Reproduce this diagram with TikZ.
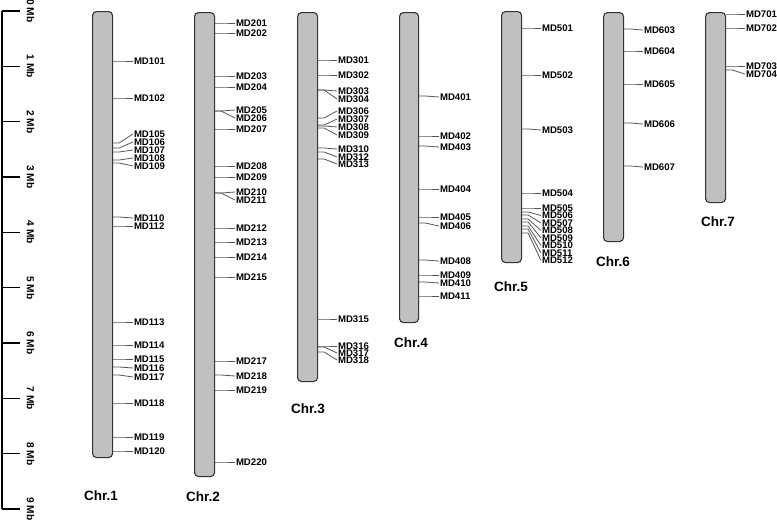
\documentclass[tikz,border=0pt]{standalone}
\usepackage{fontspec}
\setmainfont{Liberation Sans}
\definecolor{chrfill}{HTML}{C0C0C0}
\definecolor{chrline}{HTML}{333333}
\definecolor{conline}{HTML}{555555}
\newcommand\mk[5]{%
  \node[lab] (#5) at (#2,#4) {#5};
  \draw[con] (#1.east |- 0,#3) -- ++(6,0) -- (#5.west);
}
\begin{document}
\begin{tikzpicture}[x=1pt,y=-1pt,
  chrom/.style={draw=chrline, fill=chrfill, line width=1.1pt, rounded corners=4pt,
    inner sep=0pt, minimum width=20pt, anchor=north west},
  lab/.style={anchor=west, inner sep=0.8pt, font=\fontsize{9.6}{9.6}\selectfont\bfseries},
  con/.style={draw=conline, line width=0.8pt},
  chrlab/.style={font=\fontsize{13.5}{13.5}\selectfont\bfseries, inner sep=0pt},
  sclab/.style={font=\fontsize{10.2}{10.2}\selectfont\bfseries, rotate=-90, inner sep=0pt},
  axis/.style={draw=black, line width=1.2pt}]
\useasboundingbox (0,0) rectangle (777,528);
% scale
\coordinate (ax0) at (2,11);
\coordinate (ax9) at (2,509);
\draw[axis] (ax0) -- (ax9);
\foreach \k in {0,...,9}{
  \coordinate (t\k) at (2,{11+\k*55.33});
  \draw[axis] (t\k) -- ++(18,0);
  \node[sclab] (s\k) at (30.5,{11+\k*55.33}) {\k{} Mb};
}
% chromosomes
\node[chrom, minimum height=446pt] (c1) at (92,11) {};
\node[chrom, minimum height=464pt] (c2) at (194,12) {};
\node[chrom, minimum height=369pt] (c3) at (297,12) {};
\node[chrom, minimum height=310pt, minimum width=19pt] (c4) at (399,12) {};
\node[chrom, minimum height=251pt] (c5) at (501,11) {};
\node[chrom, minimum height=229pt] (c6) at (603,12) {};
\node[chrom, minimum height=190pt] (c7) at (705,12) {};
\node[chrlab] (L1) at (101,496) {Chr.1};
\node[chrlab] (L2) at (203,497) {Chr.2};
\node[chrlab] (L3) at (308,409) {Chr.3};
\node[chrlab] (L4) at (411,343) {Chr.4};
\node[chrlab] (L5) at (511,287) {Chr.5};
\node[chrlab] (L6) at (613,262) {Chr.6};
\node[chrlab] (L7) at (718,222) {Chr.7};
% Chr.1
\mk{c1}{133}{61}{61}{MD101}
\mk{c1}{133}{98}{98}{MD102}
\mk{c1}{133}{143}{134}{MD105}
\mk{c1}{133}{148}{142}{MD106}
\mk{c1}{133}{152}{150}{MD107}
\mk{c1}{133}{160}{158}{MD108}
\mk{c1}{133}{163}{166}{MD109}
\mk{c1}{133}{217}{218}{MD110}
\mk{c1}{133}{226}{226}{MD112}
\mk{c1}{133}{322}{322}{MD113}
\mk{c1}{133}{345}{345}{MD114}
\mk{c1}{133}{359}{359}{MD115}
\mk{c1}{133}{367}{368}{MD116}
\mk{c1}{133}{375}{377}{MD117}
\mk{c1}{133}{403}{403}{MD118}
\mk{c1}{133}{437}{437}{MD119}
\mk{c1}{133}{451}{451}{MD120}
% Chr.2
\mk{c2}{235}{23}{23}{MD201}
\mk{c2}{235}{33}{33}{MD202}
\mk{c2}{235}{76}{76}{MD203}
\mk{c2}{235}{87}{87}{MD204}
\mk{c2}{235}{111}{110}{MD205}
\mk{c2}{235}{111}{118}{MD206}
\mk{c2}{235}{129}{129}{MD207}
\mk{c2}{235}{166}{166}{MD208}
\mk{c2}{235}{177}{177}{MD209}
\mk{c2}{235}{193}{192}{MD210}
\mk{c2}{235}{193}{200}{MD211}
\mk{c2}{235}{228}{228}{MD212}
\mk{c2}{235}{242}{242}{MD213}
\mk{c2}{235}{257}{257}{MD214}
\mk{c2}{235}{277}{277}{MD215}
\mk{c2}{235}{361}{361}{MD217}
\mk{c2}{235}{375}{376}{MD218}
\mk{c2}{235}{390}{390}{MD219}
\mk{c2}{235}{462}{462}{MD220}
% Chr.3
\mk{c3}{337}{60}{60}{MD301}
\mk{c3}{337}{75}{75}{MD302}
\mk{c3}{337}{90}{91}{MD303}
\mk{c3}{337}{90}{99}{MD304}
\mk{c3}{337}{118}{111}{MD306}
\mk{c3}{337}{125}{119}{MD307}
\mk{c3}{337}{126}{127}{MD308}
\mk{c3}{337}{128}{135}{MD309}
\mk{c3}{337}{148}{149}{MD310}
\mk{c3}{337}{152}{157}{MD312}
\mk{c3}{337}{159}{164}{MD313}
\mk{c3}{337}{319}{319}{MD315}
\mk{c3}{337}{346}{346}{MD316}
\mk{c3}{337}{347}{353}{MD317}
\mk{c3}{337}{352}{360}{MD318}
% Chr.4
\mk{c4}{439}{96}{97}{MD401}
\mk{c4}{439}{136}{136}{MD402}
\mk{c4}{439}{146}{147}{MD403}
\mk{c4}{439}{189}{189}{MD404}
\mk{c4}{439}{217}{217}{MD405}
\mk{c4}{439}{223}{226}{MD406}
\mk{c4}{439}{260}{261}{MD408}
\mk{c4}{439}{275}{275}{MD409}
\mk{c4}{439}{282}{283}{MD410}
\mk{c4}{439}{296}{296}{MD411}
% Chr.5
\mk{c5}{541}{28}{28}{MD501}
\mk{c5}{541}{75}{75}{MD502}
\mk{c5}{541}{129}{130}{MD503}
\mk{c5}{541}{193}{193}{MD504}
\mk{c5}{541}{208}{208}{MD505}
\mk{c5}{541}{212}{215.5}{MD506}
\mk{c5}{541}{215}{223}{MD507}
\mk{c5}{541}{219}{230.5}{MD508}
\mk{c5}{541}{222}{238}{MD509}
\mk{c5}{541}{226}{245.5}{MD510}
\mk{c5}{541}{229}{253}{MD511}
\mk{c5}{541}{233}{260.5}{MD512}
% Chr.6
\mk{c6}{643}{29}{30}{MD603}
\mk{c6}{643}{51}{51}{MD604}
\mk{c6}{643}{84}{84}{MD605}
\mk{c6}{643}{123}{124}{MD606}
\mk{c6}{643}{166}{167}{MD607}
% Chr.7
\mk{c7}{745}{14}{14}{MD701}
\mk{c7}{745}{28}{28}{MD702}
\mk{c7}{745}{66}{66}{MD703}
\mk{c7}{745}{70}{74}{MD704}
\end{tikzpicture}
\end{document}
